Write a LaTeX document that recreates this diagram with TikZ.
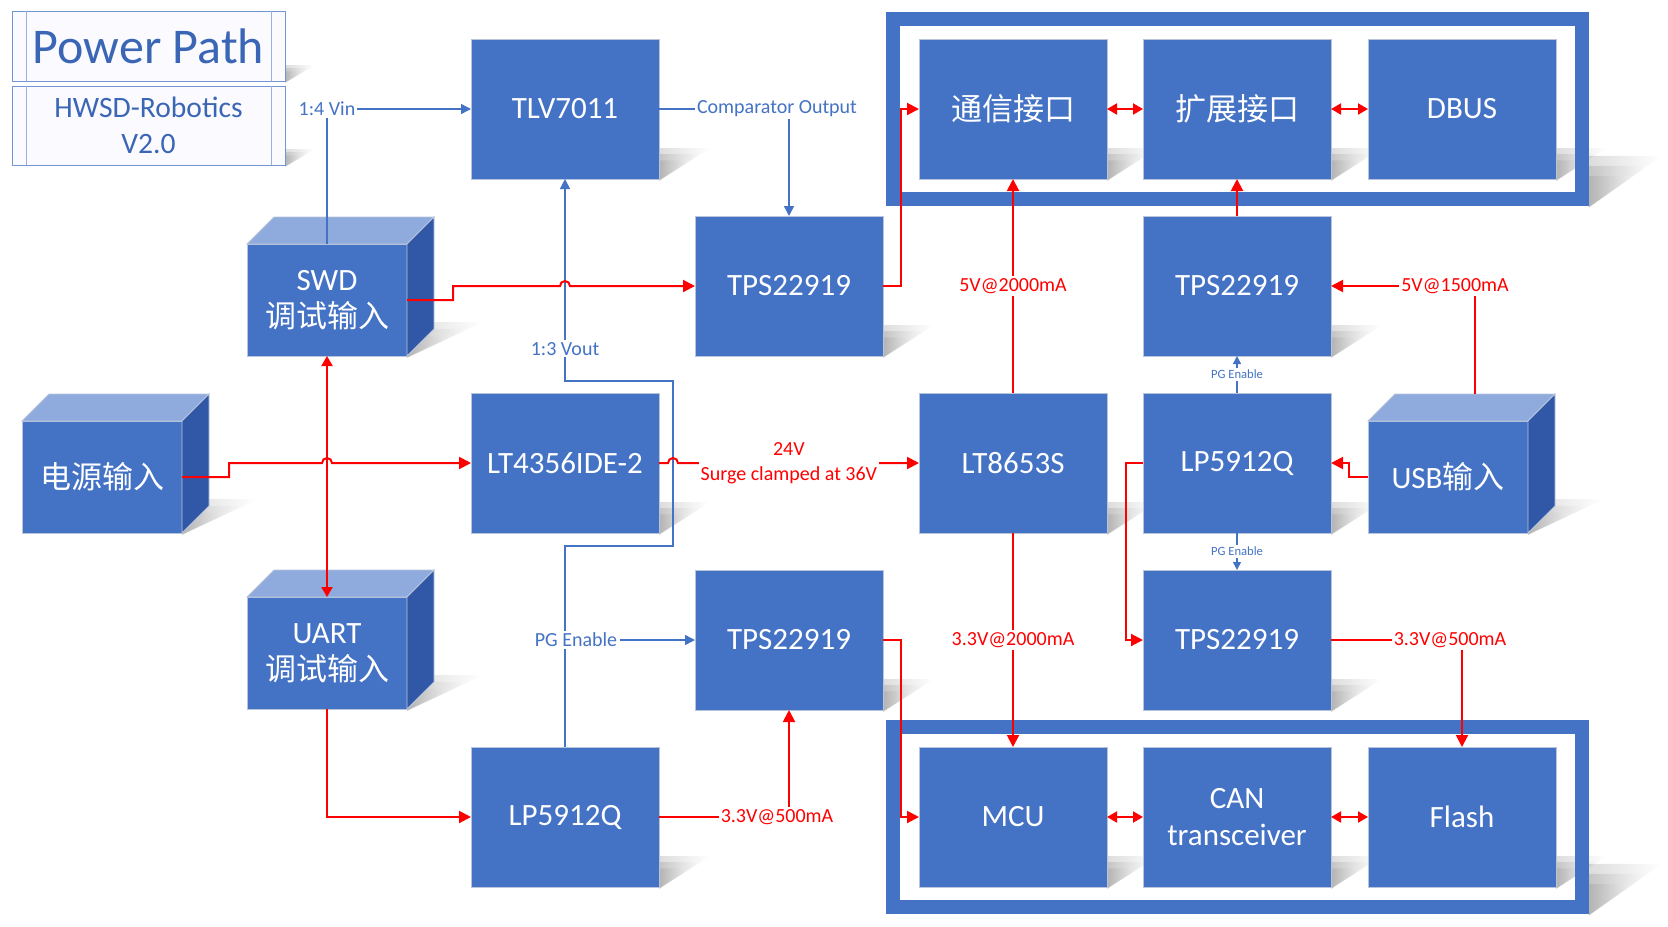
\documentclass[tikz,border=0pt]{standalone}
\usepackage{fontspec}
\setmainfont{Carlito}
\newfontfamily\cjk{Noto Sans CJK SC}
\usetikzlibrary{arrows.meta,calc,fit}

\definecolor{boxblue}{HTML}{4472C4}
\definecolor{cubetop}{HTML}{8FAADC}
\definecolor{cubeside}{HTML}{3158A6}
\definecolor{titleblue}{HTML}{3A66B5}
\definecolor{edgegray}{HTML}{B8C4DA}

\newcommand\boxfont{\fontsize{15.5}{18.5}\selectfont}
\newcommand\lblfont{\fontsize{10}{12.5}\selectfont}
\newcommand\pgfont{\fontsize{6.3}{7.5}\selectfont}

\pgfdeclarelayer{shadow}
\pgfsetlayers{shadow,main}

% soft grey wedge to the lower right of a block
\newcommand\blkshadow[3]{%
  \foreach \s in {1,0.8,0.6} {
    \shade[left color=black!45,right color=white,opacity=0.3] ($(#1.south east)+(0,2*\s)$) -- ++(\s*#2,-\s*#3-2*\s) -- ++(-\s*#2,0) -- cycle;
  }}
% top and side faces of a cube
\newcommand\cubefaces[1]{%
  \filldraw[fill=cubetop,draw=edgegray,line width=0.4pt] (#1.north west) -- ++(27,-27) -- ($(#1.north east)+(27,-27)$) -- (#1.north east) -- cycle;
  \filldraw[fill=cubeside,draw=edgegray,line width=0.4pt] (#1.north east) -- ++(27,-27) -- ($(#1.south east)+(27,-27)$) -- (#1.south east) -- cycle;}

\tikzset{
  blk/.style={draw=edgegray,line width=0.4pt,fill=boxblue,text=white,minimum width=94pt,minimum height=70pt,inner sep=0pt,outer sep=0pt,font=\boxfont,align=center},
  cube/.style={blk,minimum width=80pt,minimum height=56pt},
  titlebox/.style={draw=boxblue!75,line width=0.5pt,fill=blue!2,text=titleblue,minimum width=136.5pt,inner sep=0pt,outer sep=0pt,align=center},
  grp/.style={draw=boxblue,line width=6.75pt,inner xsep=13pt,inner ysep=10pt},
  sig/.style={draw=boxblue,line width=0.7pt,-{Triangle[length=5pt,width=5pt]}},
  pwr/.style={draw=red,line width=1pt,-{Triangle[length=6pt,width=6pt]}},
  bus/.style={draw=red,line width=1pt,{Triangle[length=5pt,width=5.5pt]}-{Triangle[length=5pt,width=5.5pt]}},
  siglbl/.style={fill=white,text=boxblue,font=\lblfont,inner sep=1pt,align=center},
  pwrlbl/.style={fill=white,text=red,font=\lblfont,inner sep=1pt,align=center},
}

\begin{document}
\begin{tikzpicture}[x=0.5pt,y=-0.5pt]
  \useasboundingbox (0,0) rectangle (1668,926);

  % title
  \node[titlebox,minimum height=35pt,font=\fontsize{25}{29}\selectfont] (ttl) at (148.5,46) {Power Path};
  \node[titlebox,minimum height=39.5pt,font=\fontsize{14.8}{18}\selectfont] (ver) at (148.5,125.5) {HWSD-Robotics\\V2.0};
  \foreach \n in {ttl,ver} {
    \draw[boxblue!55,line width=0.5pt] ([xshift=7pt]\n.north west) -- ([xshift=7pt]\n.south west);
    \draw[boxblue!55,line width=0.5pt] ([xshift=-7pt]\n.north east) -- ([xshift=-7pt]\n.south east);
  }

  % inputs
  \node[cube] (pwrin) at (102,477)  {{\cjk 电源输入}};
  \node[cube] (swd)   at (327,300)  {SWD\\{\cjk 调试输入}};
  \node[cube] (uart)  at (327,653)  {UART\\{\cjk 调试输入}};
  \node[cube] (usb)   at (1448,477) {USB{\cjk 输入}};
  \foreach \n in {pwrin,swd,uart,usb} {\cubefaces{\n}}

  % blocks
  \node[blk] (tlv)    at (565,109)  {TLV7011};
  \node[blk] (lt4356) at (565,463)  {LT4356IDE-2};
  \node[blk] (lpa)    at (565,817)  {LP5912Q};
  \node[blk] (tpsa)   at (789,286)  {TPS22919};
  \node[blk] (tpsb)   at (789,640)  {TPS22919};
  \node[blk] (comm)   at (1013,109) {{\cjk 通信接口}};
  \node[blk] (lt8653) at (1013,463) {LT8653S};
  \node[blk] (mcu)    at (1013,817) {MCU};
  \node[blk] (ext)    at (1237,109) {{\cjk 扩展接口}};
  \node[blk] (tpsc)   at (1237,286) {TPS22919};
  \node[blk] (lpb)    at (1237,463) {LP5912Q};
  \node[blk] (tpsd)   at (1237,640) {TPS22919};
  \node[blk] (can)    at (1237,817) {CAN\\transceiver};
  \node[blk] (dbus)   at (1462,109) {DBUS};
  \node[blk] (flash)  at (1462,817) {Flash};

  % groups
  \node[grp,fit=(comm)(dbus)] (ifgrp) {};
  \node[grp,fit=(mcu)(flash)] (mcugrp) {};

  \begin{pgfonlayer}{shadow}
    \foreach \n in {tlv,lt4356,lpa,tpsa,tpsb,comm,lt8653,mcu,ext,tpsc,lpb,tpsd,can,dbus,flash} {\blkshadow{\n}{51}{31}}
    \foreach \n in {pwrin,swd,uart,usb} {\blkshadow{\n}{76}{34}}
    \foreach \n in {ttl,ver} {\blkshadow{\n}{30}{16}}
    \foreach \n in {ifgrp,mcugrp} {\blkshadow{\n}{73}{50}}
  \end{pgfonlayer}

  % signal lines
  \draw[sig] (swd.north) |- node[siglbl,pos=0.5]{1:4 Vin} (tlv.west);
  \draw[sig] (tlv.east) -| node[siglbl,pos=0.5,xshift=-6pt]{Comparator Output} (tpsa.north);
  \draw[sig] (lpa.north) -- ++(0,-201) -| ++(108,-165) -| node[siglbl,pos=0.58]{1:3 Vout} (tlv.south);
  \node[siglbl] (pgen) at ($(lpa.north |- tpsb.west)+(11,0)$) {PG Enable};
  \draw[sig] (pgen.east) -- (tpsb.west);
  \draw[sig,-{Triangle[length=4pt,width=4pt]}] (lpb.north) -- node[siglbl,font=\pgfont]{PG Enable} (tpsc.south);
  \draw[sig,-{Triangle[length=4pt,width=4pt]}] (lpb.south) -- node[siglbl,font=\pgfont]{PG Enable} (tpsd.north);

  % power lines
  \draw[pwr] (pwrin.east) -- ++(47,0) |- ($(swd.south |- lt4356.west)+(-5,0)$) arc[start angle=180,end angle=360,radius=5] -- (lt4356.west);
  \draw[pwr] (swd.east) -- ++(46,0) |- ($(tlv.south |- tpsa.west)+(-5,0)$) arc[start angle=180,end angle=360,radius=5] -- (tpsa.west);
  \draw[bus] (swd.south) -- (uart.north);
  \draw[pwr] (uart.south) |- (lpa.west);
  \draw[pwr] (lt4356.east) -- ++(9,0) arc[start angle=180,end angle=360,radius=5] -- node[pwrlbl,pos=0.46]{24V\\Surge clamped at 36V} (lt8653.west);
  \draw[pwr] (tpsa.east) -- ++(18,0) |- (comm.west);
  \draw[pwr] (lt8653.north) -- node[pwrlbl]{5V@2000mA} (comm.south);
  \draw[pwr] (lt8653.south) -- node[pwrlbl]{3.3V@2000mA} (mcu.north);
  \draw[pwr] (tpsb.east) -- ++(18,0) |- (mcu.west);
  \draw[pwr] (lpa.east) -| node[pwrlbl,pos=0.5,xshift=-6pt]{3.3V@500mA} (tpsb.south);
  \draw[pwr] (tpsc.north) -- (ext.south);
  \draw[pwr] ($(usb.north)+(27,-27)$) |- node[pwrlbl,pos=0.5,xshift=-10pt]{5V@1500mA} (tpsc.east);
  \draw[pwr] (usb.west) -- ++(-19,0) |- (lpb.east);
  \draw[pwr] (lpb.west) -- ++(-17,0) |- (tpsd.west);
  \draw[pwr] (tpsd.east) -| node[pwrlbl,pos=0.5,xshift=-6pt]{3.3V@500mA} (flash.north);

  % buses
  \draw[bus] (comm.east) -- (ext.west);
  \draw[bus] (ext.east) -- (dbus.west);
  \draw[bus] (mcu.east) -- (can.west);
  \draw[bus] (can.east) -- (flash.west);
\end{tikzpicture}
\end{document}
